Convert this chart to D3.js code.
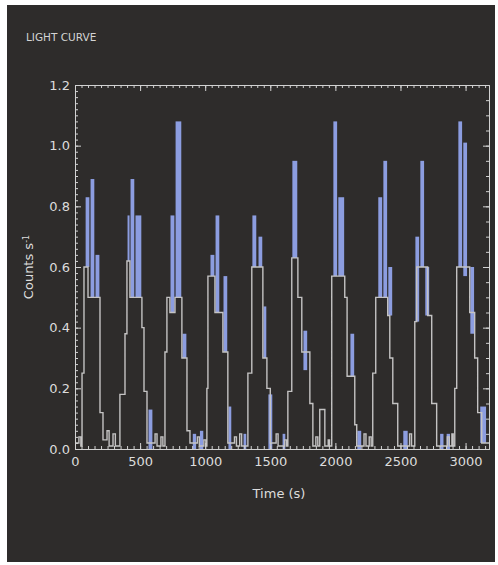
<!DOCTYPE html>
<html>
<head>
<meta charset="utf-8">
<script src="https://cdn.jsdelivr.net/npm/d3@7"></script>
<style>
  body { margin: 0; background: #fff; }
  svg text { font-family: "DejaVu Sans", Verdana, sans-serif; }
</style>
</head>
<body>
<svg id="chart" width="498" height="565"></svg>
<script>
// binned light curve (step outline): time where each bin level starts, counts/s
var greyTimes = [0, 30, 45, 54, 69, 100, 192, 215, 246, 262, 292, 310,
  345, 384, 399, 422, 514, 530, 553, 615, 630, 660, 675,
  691, 706, 729, 768, 821, 860, 883, 940, 955, 990, 1005,
  1013, 1021, 1075, 1136, 1174, 1225, 1240, 1265, 1280,
  1328, 1358, 1443, 1474, 1500, 1545, 1560, 1610, 1625,
  1635, 1665, 1712, 1742, 1804, 1827, 1850, 1865, 1880, 1919, 1945, 1955,
  1972, 2072, 2090, 2149, 2164, 2220, 2235, 2260, 2275,
  2287, 2310, 2402, 2418, 2441, 2479, 2570, 2585,
  2610, 2625, 2709, 2740, 2778, 2860, 2875, 2895, 2905,
  2917, 2932, 3032, 3070, 3093, 3124, 3180];
var greyCounts = [0.02, 0.04, 0.01, 0.25, 0.6, 0.5, 0.12, 0.03, 0.06, 0.01, 0.05, 0.01,
  0.18, 0.38, 0.62, 0.5, 0.4, 0.19, 0.02, 0.05, 0.01, 0.04, 0.01,
  0.32, 0.5, 0.45, 0.5, 0.3, 0.06, 0.02, 0.04, 0.01, 0.03, 0.01,
  0.2, 0.57, 0.45, 0.32, 0.02, 0.04, 0.01, 0.05, 0.01,
  0.25, 0.6, 0.3, 0.2, 0.02, 0.05, 0.01, 0.03, 0.01,
  0.19, 0.63, 0.5, 0.32, 0.15, 0.01, 0.04, 0.01, 0.13, 0.01, 0.03, 0.01,
  0.57, 0.5, 0.24, 0.08, 0.01, 0.05, 0.01, 0.04, 0.01,
  0.25, 0.5, 0.44, 0.3, 0.15, 0.01, 0.05, 0.01,
  0.42, 0.6, 0.44, 0.15, 0.01, 0.04, 0.01, 0.05, 0.01,
  0.2, 0.6, 0.45, 0.3, 0.12, 0.02, 0.02];

// fine bins shown in blue: start, end, lower and upper count rate
var blueStart = [77, 115, 153, 399, 422, 460, 560, 729, 768, 821, 900, 955,
  1036, 1075, 1136, 1174, 1290, 1358, 1405, 1443, 1481, 1590,
  1665, 1750, 1980, 2018, 2111, 2164, 2325, 2364, 2402, 2517,
  2610, 2648, 2686, 2800, 2850, 2940, 2978, 3032, 3108];
var blueEnd = [115, 153, 192, 422, 460, 514, 599, 768, 821, 860, 935, 990,
  1075, 1113, 1174, 1205, 1320, 1397, 1443, 1474, 1520, 1620,
  1712, 1788, 2018, 2072, 2149, 2203, 2364, 2402, 2441, 2560,
  2648, 2686, 2725, 2835, 2885, 2978, 3016, 3070, 3162];
var blueLow = [0.6, 0.5, 0.5, 0.62, 0.5, 0.5, 0, 0.45, 0.5, 0.3, 0, 0,
  0.57, 0.45, 0.32, 0, 0, 0.6, 0.6, 0.3, 0, 0,
  0.63, 0.26, 0.57, 0.57, 0.24, 0, 0.5, 0.5, 0.44, 0,
  0.42, 0.6, 0.44, 0, 0, 0.6, 0.57, 0.38, 0.02];
var blueHigh = [0.83, 0.89, 0.64, 0.77, 0.89, 0.77, 0.13, 0.77, 1.08, 0.38, 0.05, 0.06,
  0.64, 0.77, 0.57, 0.14, 0.05, 0.77, 0.70, 0.47, 0.18, 0.05,
  0.95, 0.39, 1.08, 0.83, 0.38, 0.06, 0.83, 0.95, 0.6, 0.06,
  0.70, 0.95, 0.6, 0.05, 0.05, 1.08, 1.01, 0.6, 0.14];

var xTicks = [0, 500, 1000, 1500, 2000, 2500, 3000];
var yTicks = [0.0, 0.2, 0.4, 0.6, 0.8, 1.0, 1.2];

var svg = d3.select("#chart"),
    LEFT = 75, RIGHT = 489, TOP = 85, BOTTOM = 449,
    AXIS = "#d2d2d2";

var xScale = d3.scaleLinear().domain([0, 3180]).range([LEFT, RIGHT]),
    yScale = d3.scaleLinear().domain([0, 1.2]).range([BOTTOM, TOP]);

// dark panel
svg.append("rect")
  .attr("x", 7).attr("y", 5).attr("width", 488).attr("height", 557)
  .attr("fill", "#2e2c2b");

svg.append("text")
  .attr("x", 26).attr("y", 41)
  .attr("fill", "#d4d4d4").attr("font-size", 10.5)
  .text("LIGHT CURVE");

// blue fine-bin bars (drawn a little narrower than the bin so they read as strips)
var blue = blueStart.map(function(s, i) {
  return { s: s, e: blueEnd[i], lo: blueLow[i], hi: blueHigh[i] };
});
svg.append("g").selectAll("rect").data(blue).enter().append("rect")
  .attr("x", function(d) { return xScale(d.s) + 0.6; })
  .attr("width", function(d) { return Math.max(2, xScale(d.e) - xScale(d.s) - 1.2); })
  .attr("y", function(d) { return yScale(d.hi); })
  .attr("height", function(d) { return yScale(d.lo) - yScale(d.hi); })
  .attr("fill", "#8c9de0");

// grey step outline
var steps = greyTimes.map(function(t, i) { return { t: t, v: greyCounts[i] }; });
var stepLine = d3.line()
  .x(function(d) { return xScale(d.t); })
  .y(function(d) { return yScale(d.v); })
  .curve(d3.curveStepAfter);
svg.append("path")
  .attr("d", stepLine(steps))
  .attr("fill", "none")
  .attr("stroke", "#c4c3c3")
  .attr("stroke-width", 1.4);

// frame with inward ticks
function styleAxis(g) {
  g.selectAll("path, line").attr("stroke", AXIS);
  g.selectAll("text").attr("fill", "#dcdcdc").attr("font-size", 13);
}
var minorX = d3.range(0, 3180, 50), minorY = d3.range(0, 1.201, 0.02);

svg.append("g").attr("transform", "translate(0," + BOTTOM + ")")
  .call(d3.axisBottom(xScale).tickValues(minorX).tickSize(-3).tickFormat("").tickSizeOuter(0))
  .call(styleAxis);
svg.append("g").attr("transform", "translate(0," + BOTTOM + ")")
  .call(d3.axisBottom(xScale).tickValues(xTicks).tickSizeInner(-6).tickSizeOuter(0)
    .tickPadding(8).tickFormat(d3.format("d")))
  .call(styleAxis);
svg.append("g").attr("transform", "translate(0," + TOP + ")")
  .call(d3.axisTop(xScale).tickValues(minorX).tickSize(-3).tickFormat("").tickSizeOuter(0))
  .call(styleAxis);
svg.append("g").attr("transform", "translate(0," + TOP + ")")
  .call(d3.axisTop(xScale).tickValues(xTicks).tickSize(-6).tickFormat("").tickSizeOuter(0))
  .call(styleAxis);

svg.append("g").attr("transform", "translate(" + LEFT + ",0)")
  .call(d3.axisLeft(yScale).tickValues(minorY).tickSize(-3).tickFormat("").tickSizeOuter(0))
  .call(styleAxis);
svg.append("g").attr("transform", "translate(" + LEFT + ",0)")
  .call(d3.axisLeft(yScale).tickValues(yTicks).tickSizeInner(-6).tickSizeOuter(0)
    .tickPadding(5).tickFormat(d3.format(".1f")))
  .call(styleAxis);
svg.append("g").attr("transform", "translate(" + RIGHT + ",0)")
  .call(d3.axisRight(yScale).tickValues(d3.range(0, 1.201, 0.05)).tickSize(-3).tickFormat("").tickSizeOuter(0))
  .call(styleAxis);
svg.append("g").attr("transform", "translate(" + RIGHT + ",0)")
  .call(d3.axisRight(yScale).tickValues(yTicks).tickSize(-6).tickFormat("").tickSizeOuter(0))
  .call(styleAxis);

// axis titles
svg.append("text")
  .attr("x", (LEFT + RIGHT) / 2 - 3).attr("y", 498)
  .attr("text-anchor", "middle")
  .attr("fill", "#dcdcdc").attr("font-size", 13)
  .text("Time (s)");

var yl = svg.append("text")
  .attr("transform", "translate(33," + ((TOP + BOTTOM) / 2) + ") rotate(-90)")
  .attr("text-anchor", "middle")
  .attr("fill", "#dcdcdc").attr("font-size", 13);
yl.append("tspan").text("Counts s");
yl.append("tspan").attr("baseline-shift", "super").attr("font-size", 8).text("-1");
</script>
</body>
</html>
